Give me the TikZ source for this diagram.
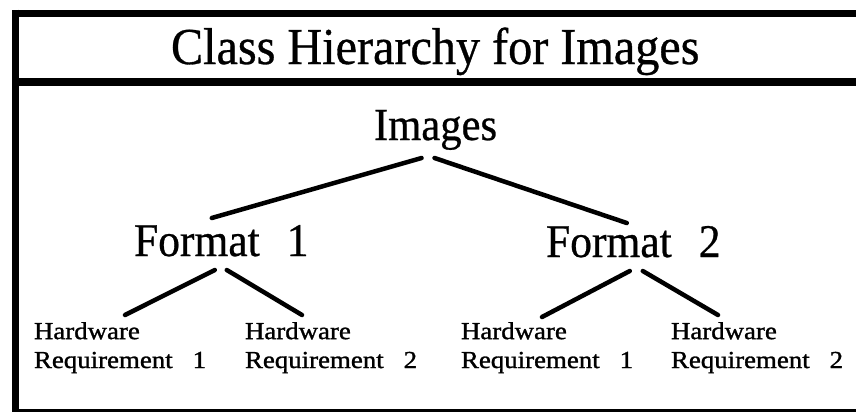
\documentclass[tikz,border=0pt]{standalone}
\usepackage{fontspec}
\setmainfont{Liberation Serif}
\newfontfamily\bigserif{Liberation Serif}[FakeStretch=0.93, FakeBold=0.6]
\newfontfamily\smallserif{Liberation Serif}[FakeStretch=1.1, FakeBold=1.2]
\usetikzlibrary{calc}

\begin{document}
\begin{tikzpicture}[x=1bp, y=-1bp,
  lbl/.style={inner sep=0pt, outer sep=0pt, anchor=base west},
  titletext/.style={lbl, font=\bigserif\fontsize{52}{60}\selectfont},
  classtext/.style={lbl, font=\bigserif\fontsize{47}{54}\selectfont},
  leaftext/.style={lbl, align=left, font=\smallserif\fontsize{24.5}{29}\selectfont},
  rule/.style={line width=#1, line cap=butt},
  conn/.style={line width=4.5bp, line cap=round}
]
\useasboundingbox (0,0) rectangle (856,413);

% frame: open on the right side
\draw[rule=7bp] (12.5,13) -- (856,13);
\draw[rule=8bp] (12.5,82) -- (856,82);
\draw[rule=3bp] (12.5,410) -- (856,410);
\draw[rule=7bp] (15.5,9.5) -- (15.5,411.5);

% title
\node[titletext] (title) at (171,64) {Class Hierarchy for Images};

% hierarchy
\node[classtext, font=\bigserif\fontsize{46}{54}\selectfont] (img) at (374,140) {Images};
\node[classtext] (f1) at (134,256) {Format\hspace{27bp}1};
\node[classtext] (f2) at (546,257) {Format\hspace{27bp}2};

% leaf nodes are anchored on the baseline of their second line
\node[leaftext] (h11) at (34,368)  {Hardware\\Requirement\hspace{20bp}1};
\node[leaftext] (h12) at (245,368) {Hardware\\Requirement\hspace{20bp}2};
\node[leaftext] (h21) at (461,368) {Hardware\\Requirement\hspace{20bp}1};
\node[leaftext] (h22) at (671,368) {Hardware\\Requirement\hspace{20bp}2};

% connectors
\draw[conn] ($(img.base)+(-14,18)$) -- ($(f1.base)+(-9.5,-38)$);
\draw[conn] ($(img.base)+(-1,18)$)  -- ($(f2.base)+(-6.5,-34)$);

\draw[conn] ($(f1.base)+(-6.5,14)$) -- ($(h11.base west)+(91,-53)$);
\draw[conn] ($(f1.base)+(5.5,14)$)  -- ($(h12.base west)+(57,-53)$);
\draw[conn] ($(f2.base)+(-3.5,14)$) -- ($(h21.base west)+(81,-51)$);
\draw[conn] ($(f2.base)+(9.5,14)$)  -- ($(h22.base west)+(47,-53)$);
\end{tikzpicture}
\end{document}
